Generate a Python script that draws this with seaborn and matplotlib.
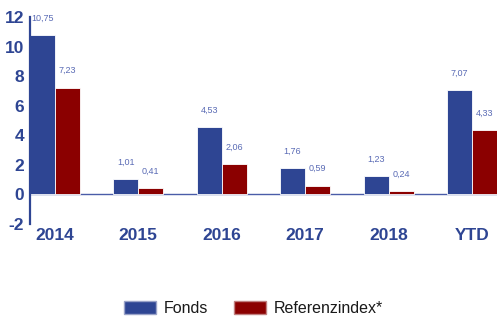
import matplotlib
matplotlib.use("Agg")
import matplotlib.pyplot as plt
import seaborn as sns
import pandas as pd
from matplotlib.patches import Patch

categories = ["2014", "2015", "2016", "2017", "2018", "YTD"]
fonds = [10.75, 1.01, 4.53, 1.76, 1.23, 7.07]
referenz = [7.23, 0.41, 2.06, 0.59, 0.24, 4.33]
series_names = ["Fonds", "Referenzindex*"]
yticks = [-2, 0, 2, 4, 6, 8, 10, 12]

blue = "#2E4593"
red = "#8B0000"
label_color = "#5A6BB5"

df = pd.DataFrame({
    "Jahr": categories * 2,
    "Serie": [series_names[0]] * len(categories) + [series_names[1]] * len(categories),
    "Wert": fonds + referenz,
})

sns.set_style("white")
plt.rcParams["font.family"] = ["Liberation Sans", "DejaVu Sans"]

fig = plt.figure(figsize=(4.97, 3.2), dpi=100)
ax = fig.add_axes([0.060, 0.30, 0.94, 0.647])

sns.barplot(data=df, x="Jahr", y="Wert", hue="Serie", order=categories,
            hue_order=series_names, palette=[blue, red], width=0.6,
            saturation=1, edgecolor="white", linewidth=0.6, ax=ax, legend=False)

ax.set_ylim(-2, 12)
ax.set_xlim(-0.3, 5.3)
ax.set_yticks(yticks)
ax.set_yticklabels([str(t) for t in yticks])
ax.set_xlabel("")
ax.set_ylabel("")

for s in ["top", "right", "bottom"]:
    ax.spines[s].set_visible(False)
ax.spines["left"].set_color(blue)
ax.spines["left"].set_linewidth(1.6)
ax.axhline(0, color="#4A5CA8", linewidth=1.0, zorder=0.5)

ax.tick_params(axis="both", length=0, colors=blue, labelsize=12.5)
ax.tick_params(axis="x", pad=3)
ax.tick_params(axis="y", pad=4)
for lab in ax.get_xticklabels() + ax.get_yticklabels():
    lab.set_fontweight("bold")
    lab.set_color(blue)

for container in ax.containers:
    for bar in container:
        h = bar.get_height()
        ax.annotate(f"{h:.2f}".replace(".", ","),
                    (bar.get_x() + bar.get_width() / 2, h),
                    xytext=(0, 9), textcoords="offset points",
                    ha="center", va="bottom", fontsize=6.5, color=label_color)

handles = [Patch(facecolor=blue, edgecolor="#9aa3c8", label=series_names[0]),
           Patch(facecolor=red, edgecolor="#c08080", label=series_names[1])]
fig.legend(handles=handles, loc="center", bbox_to_anchor=(0.51, 0.035),
           ncol=2, frameon=False, fontsize=11.5, handlelength=2.0,
           handleheight=0.9, columnspacing=1.6, handletextpad=0.5,
           labelcolor="#1a1a1a")

fig.savefig("out.png", dpi=100)
